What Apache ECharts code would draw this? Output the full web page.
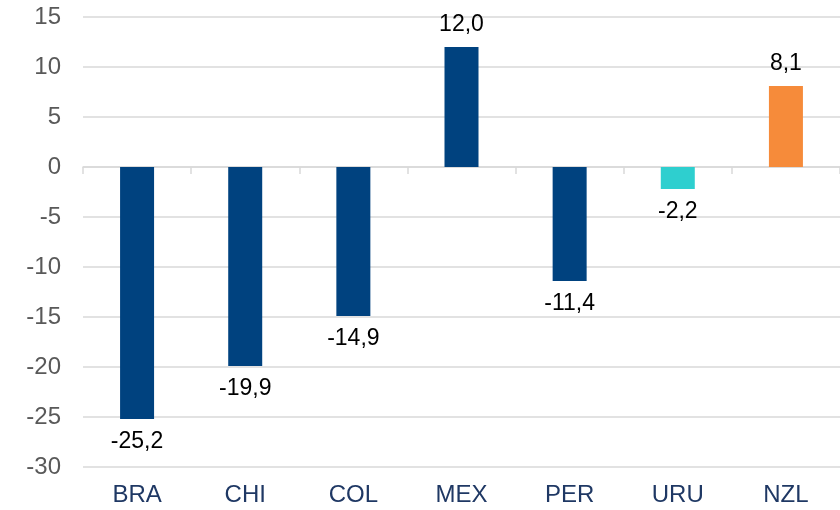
<!DOCTYPE html>
<html>
<head>
<meta charset="utf-8">
<script src="https://cdn.jsdelivr.net/npm/echarts@6/dist/echarts.min.js"></script>
<style>
  html, body { margin: 0; padding: 0; background: #fff; }
  #chart { width: 840px; height: 510px; }
</style>
</head>
<body>
<div id="chart"></div>
<script>
// data
var countries = ['BRA', 'CHI', 'COL', 'MEX', 'PER', 'URU', 'NZL'];
var values = [-25.2, -19.9, -14.9, 12.0, -11.4, -2.2, 8.1];
var barColors = ['#00427F', '#00427F', '#00427F', '#00427F', '#00427F', '#2ECFCF', '#F68B3A'];

var myChart = echarts.init(document.getElementById('chart'));

myChart.setOption({
    animation: false,
    textStyle: { fontFamily: 'Liberation Sans' },
    grid: { left: 83, top: 17, width: 768, height: 450 },
    xAxis: [{
        type: 'category',
        data: countries,
        axisLine: { onZero: true, lineStyle: { color: '#D9D9D9', width: 1.5 } },
        axisTick: { show: true, length: 7, lineStyle: { color: '#D9D9D9', width: 1.5 } },
        axisLabel: { show: false }
    }, {
        type: 'category',
        data: countries,
        position: 'bottom',
        axisLine: { show: false, onZero: false },
        axisTick: { show: false },
        axisLabel: { color: '#1F3864', fontSize: 24, margin: 16 }
    }],
    yAxis: {
        type: 'value',
        min: -30,
        max: 15,
        interval: 5,
        axisLine: { show: false },
        axisTick: { show: false },
        axisLabel: { color: '#595959', fontSize: 24, margin: 22 },
        splitLine: { lineStyle: { color: '#D9D9D9', width: 1.5 } }
    },
    series: [{
        type: 'bar',
        xAxisIndex: 0,
        barWidth: 34,
        data: values.map(function (v, i) {
            return {
                value: v,
                itemStyle: { color: barColors[i] },
                label: { position: v >= 0 ? 'top' : 'bottom' }
            };
        }),
        label: {
            show: true,
            color: '#000',
            fontSize: 23,
            distance: 11,
            formatter: function (p) { return p.value.toFixed(1).replace('.', ','); }
        }
    }]
});
</script>
</body>
</html>
